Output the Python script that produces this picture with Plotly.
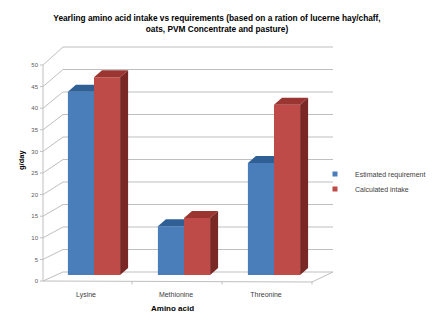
import plotly.graph_objects as go

# ---- data ----
categories = ["Lysine", "Methionine", "Threonine"]
estimated_requirement = [42.4, 11.3, 25.9]
calculated_intake = [45.8, 13.2, 39.4]
series_names = ["Estimated requirement", "Calculated intake"]
y_ticks = list(range(0, 55, 5))

# ---- layout constants (pixels) ----
W, H = 444, 318
ML, MR, MT, MB = 49, 125, 59, 43
PW, PH = W - ML - MR, H - MT - MB
YMAX = 50
BARGAP = 0.42
DXP, DYP = 8, 7          # bar depth in px
FONT = "Liberation Sans"
GRID = "#BFBFBF"

front_col = ["#4A7EBB", "#BE4B48"]
top_col = ["#2F5F95", "#9A3532"]
side_col = ["#284F7D", "#7A2826"]

ux = PW / len(categories)
uy = PH / YMAX
dx, dy = DXP / ux, DYP / uy
w = (1 - BARGAP) / 2
xs = list(range(len(categories)))


def pp(px, py):
    return (px - ML) / PW, (H - MB - py) / PH


fig = go.Figure()
series = [estimated_requirement, calculated_intake]
legend_ids = ["legend", "legend2"]
for k, (name, vals) in enumerate(zip(series_names, series)):
    fig.add_trace(go.Bar(
        x=xs, y=vals, name=name, width=w, offset=-(1 - BARGAP) / 2 + k * w,
        marker=dict(color=front_col[k], line=dict(width=0)), showlegend=False,
    ))
    # legend entry with a small square swatch
    fig.add_trace(go.Scatter(
        x=[None], y=[None], mode="markers", name=name, legend=legend_ids[k],
        marker=dict(symbol="square", size=5, color=front_col[k]),
    ))

shapes = []
# ---- walls / gridlines ----
FX, BX, BRX = 43, 63, 333
FY0, FS, BY0, BS = 281, 4.32, 272, 4.5
for t in y_ticks:
    fy = FY0 - FS * t
    by = BY0 - BS * t
    for (x0, y0, x1, y1) in [(FX, fy, BX, by), (BX, by, BRX, by), (FX - 3, fy, FX, fy)]:
        a, b = pp(x0, y0)
        c, d = pp(x1, y1)
        shapes.append(dict(type="line", xref="paper", yref="paper", x0=a, y0=b, x1=c, y1=d,
                           line=dict(color=GRID, width=1), layer="below"))
floor = [(FX, FY0, FX, FY0 - FS * YMAX), (FX, FY0, 312, FY0 + 1), (312, FY0 + 1, BRX, BY0)]
for cx in [132, 222, 312]:
    floor.append((cx, FY0 + 0.5, cx, FY0 + 3.5))
for (x0, y0, x1, y1) in floor:
    a, b = pp(x0, y0)
    c, d = pp(x1, y1)
    shapes.append(dict(type="line", xref="paper", yref="paper", x0=a, y0=b, x1=c, y1=d,
                       line=dict(color=GRID, width=1), layer="below"))

# ---- 3D faces of the bars ----
for i in xs:
    for k in range(2):
        v = series[k][i]
        L = i - (1 - BARGAP) / 2 + k * w
        R = L + w
        if k == 0 and series[1][i] >= v + dy:
            path = f"M{L},{v} L{R},{v} L{R},{v+dy} L{L+dx},{v+dy} Z"
        else:
            path = f"M{L},{v} L{R},{v} L{R+dx},{v+dy} L{L+dx},{v+dy} Z"
        shapes.append(dict(type="path", xref="x", yref="y", path=path,
                           fillcolor=top_col[k], line=dict(width=0), layer="above"))
        if k == 1:
            sp = f"M{R},0 L{R},{v} L{R+dx},{v+dy} L{R+dx},{dy} Z"
            shapes.append(dict(type="path", xref="x", yref="y", path=sp,
                               fillcolor=side_col[k], line=dict(width=0), layer="above"))

annotations = [
    dict(text="<b>Amino acid</b>", xref="paper", yref="paper", x=pp(172, 0)[0], y=pp(0, 308)[1],
         showarrow=False, font=dict(family=FONT, size=8, color="#000000"),
         xanchor="center", yanchor="middle"),
    dict(text="<b>g/day</b>", xref="paper", yref="paper", x=pp(21, 0)[0], y=pp(0, 160)[1],
         showarrow=False, textangle=-90, font=dict(family=FONT, size=7.5, color="#000000"),
         xanchor="center", yanchor="middle"),
]

legend_common = dict(xanchor="left", yanchor="middle",
                     font=dict(family=FONT, size=7, color="#404040"), itemwidth=30,
                     bgcolor="rgba(0,0,0,0)")

fig.update_layout(
    width=W, height=H,
    margin=dict(l=ML, r=MR, t=MT, b=MB, autoexpand=False),
    paper_bgcolor="white", plot_bgcolor="rgba(0,0,0,0)",
    barmode="overlay",
    title=dict(
        text="<b>Yearling amino acid intake vs requirements (based on a ration of lucerne hay/chaff,<br>oats, PVM Concentrate and pasture)</b>",
        x=pp(217, 0)[0], xref="paper", xanchor="center", y=1 - 21 / H, yanchor="top",
        font=dict(family=FONT, size=8.3, color="#000000"),
    ),
    xaxis=dict(range=[-0.5, 2.5], tickvals=xs, ticktext=categories, showgrid=False,
               zeroline=False, showline=False, ticks="", ticklabelstandoff=14,
               ticklabelshift=-8, tickfont=dict(family=FONT, size=7, color="#404040")),
    yaxis=dict(range=[0, YMAX], tickvals=y_ticks, showgrid=False, zeroline=False,
               showline=False, ticks="", ticklabelshift=6, ticklabelstandoff=10,
               tickfont=dict(family=FONT, size=6, color="#595959")),
    legend=dict(x=pp(315, 0)[0], y=pp(0, 174)[1], **legend_common),
    legend2=dict(x=pp(315, 0)[0], y=pp(0, 189)[1], **legend_common),
    shapes=shapes,
    annotations=annotations,
)

fig.write_html("out.html", post_script="document.body.style.margin='0px';",
               config={"displayModeBar": False})
